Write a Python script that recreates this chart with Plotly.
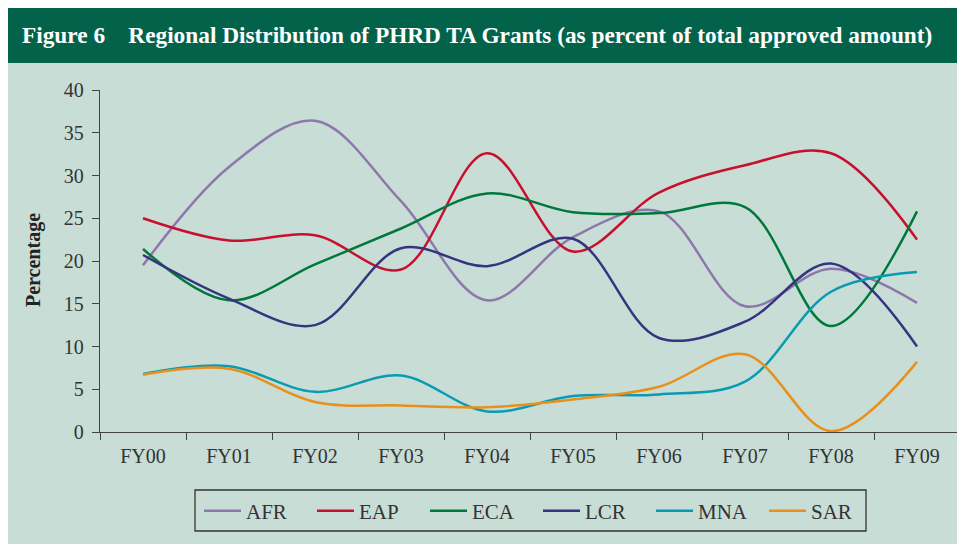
import plotly.graph_objects as go

categories = ["FY00", "FY01", "FY02", "FY03", "FY04", "FY05", "FY06", "FY07", "FY08", "FY09"]
afr = [19.5, 31.0, 36.4, 27.0, 15.4, 22.8, 25.8, 14.7, 19.1, 15.1]
eap = [25.0, 22.4, 23.0, 19.0, 32.6, 21.1, 28.0, 31.2, 32.6, 22.5]
eca = [21.4, 15.4, 19.6, 23.8, 27.9, 25.7, 25.6, 26.3, 12.4, 25.8]
lcr = [20.7, 15.6, 12.5, 21.5, 19.4, 22.6, 11.0, 12.9, 19.7, 10.0]
mna = [6.8, 7.7, 4.7, 6.6, 2.4, 4.2, 4.4, 5.9, 16.4, 18.7]
sar = [6.7, 7.4, 3.5, 3.1, 2.9, 3.8, 5.3, 9.1, 0.1, 8.2]

series = [
    ("AFR", afr, "#8e78ab"),
    ("EAP", eap, "#c8102e"),
    ("ECA", eca, "#00783c"),
    ("LCR", lcr, "#37347f"),
    ("MNA", mna, "#0a9bb3"),
    ("SAR", sar, "#e8901c"),
]

# page is rendered with an 8px body margin; work in page pixels and offset
OFF = 8
W, H = 965, 544
PLOT_L, PLOT_R, PLOT_T, PLOT_B = 100, 960, 90, 432  # page pixels
L = PLOT_L - OFF
T = PLOT_T - OFF
R = W - (PLOT_R - OFF)
B = H - (PLOT_B - OFF)
PW, PH = PLOT_R - PLOT_L, PLOT_B - PLOT_T


def xp(px):
    return (px - PLOT_L) / PW


def yp(py):
    return (PLOT_B - py) / PH


FONT = "Liberation Serif"

fig = go.Figure()
for name, vals, col in series:
    fig.add_trace(go.Scatter(
        x=categories, y=vals, name=name, mode="lines",
        line=dict(color=col, width=2.5, shape="spline", smoothing=1.0),
    ))

shapes = [
    dict(type="rect", xref="paper", yref="paper", x0=xp(6), x1=xp(990), y0=yp(570), y1=yp(63),
         fillcolor="#c8ddd6", line=dict(width=0), layer="below"),
    dict(type="rect", xref="paper", yref="paper", x0=xp(6), x1=xp(990), y0=yp(63), y1=yp(5),
         fillcolor="#03634a", line=dict(width=0), layer="below"),
    dict(type="rect", xref="paper", yref="paper", x0=xp(195), x1=xp(866), y0=yp(531), y1=yp(490),
         fillcolor="rgba(0,0,0,0)", line=dict(width=1.3, color="#333333"), layer="above"),
]

annotations = [
    dict(xref="paper", yref="paper", x=xp(20), y=yp(35), xanchor="left", yanchor="middle",
         text="<b>Figure 6&nbsp;&nbsp;&nbsp;&nbsp;Regional Distribution of PHRD TA Grants (as percent of total approved amount)</b>",
         showarrow=False, font=dict(family=FONT, size=23.3, color="white")),
    dict(xref="paper", yref="paper", x=xp(33), y=yp(260), xanchor="center", yanchor="middle",
         text="<b>Percentage</b>", textangle=-90, showarrow=False,
         font=dict(family=FONT, size=20, color="#222222")),
]

fig.update_layout(
    width=W, height=H,
    margin=dict(l=L, r=R, t=T, b=B, pad=0),
    paper_bgcolor="white",
    plot_bgcolor="rgba(0,0,0,0)",
    font=dict(family=FONT, size=20, color="#333333"),
    shapes=shapes,
    annotations=annotations,
    showlegend=True,
    legend=dict(orientation="h", x=xp(538), xanchor="center", y=yp(511), yanchor="middle",
                bgcolor="rgba(0,0,0,0)", borderwidth=0, itemwidth=37,
                entrywidth=61, entrywidthmode="pixels",
                font=dict(family=FONT, size=21, color="#333333")),
    xaxis=dict(type="category", range=[-0.5, 9.5], showgrid=False, zeroline=False,
               showline=True, linecolor="#444444", linewidth=1.3,
               ticks="outside", tickson="boundaries", ticklen=7, tickcolor="#444444", tickwidth=1.3,
               ticklabelstandoff=6,
               tickfont=dict(family=FONT, size=20, color="#333333"), fixedrange=True),
    yaxis=dict(range=[0, 40], tickvals=[0, 5, 10, 15, 20, 25, 30, 35, 40], showgrid=False, zeroline=False,
               showline=True, linecolor="#444444", linewidth=1.3,
               ticks="outside", ticklen=7, tickcolor="#444444", tickwidth=1.3,
               ticklabelstandoff=4,
               tickfont=dict(family=FONT, size=20, color="#333333"), fixedrange=True),
)

fig.write_html("out.html")
